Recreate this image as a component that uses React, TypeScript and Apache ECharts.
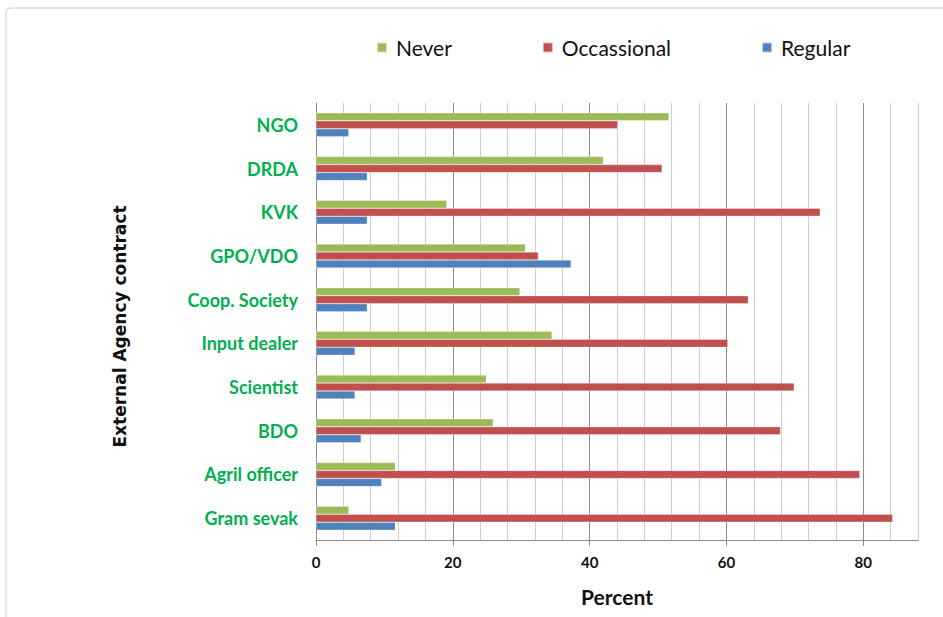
import React, { useEffect, useRef } from "react";
import * as echarts from "echarts";

const categories = [
  "Gram sevak",
  "Agril officer",
  "BDO",
  "Scientist",
  "Input dealer",
  "Coop. Society",
  "GPO/VDO",
  "KVK",
  "DRDA",
  "NGO",
];
const never = [4.8, 11.6, 25.9, 24.9, 34.5, 29.8, 30.6, 19.1, 42.0, 51.6];
const occassional = [84.3, 79.5, 67.9, 69.9, 60.2, 63.2, 32.5, 73.7, 50.6, 44.1];
const regular = [11.6, 9.6, 6.6, 5.7, 5.7, 7.5, 37.3, 7.5, 7.5, 4.8];
const xLabelValues = [0, 20, 40, 60, 80];

export default function App() {
  const ref = useRef<HTMLDivElement>(null);
  useEffect(() => {
    if (!ref.current) return;
    const chart = echarts.init(ref.current, null, { renderer: "svg" });
    const gridColors: string[] = [];
    for (let i = 0; i < 5; i++) gridColors.push(i === 0 ? "#8c8c8c" : "#cfcfcf");
    const barCommon = {
      type: "bar" as const,
      barWidth: 8,
      barGap: "0%",
      itemStyle: { borderColor: "rgba(255,255,255,0.6)", borderWidth: 0.5 },
    };
    chart.setOption({
      animation: false,
      backgroundColor: "#ffffff",
      textStyle: { fontFamily: "Lato" },
      graphic: [
        {
          type: "rect",
          shape: { x: 6, y: 8, width: 960, height: 640, r: 4 },
          style: { fill: "none", stroke: "#cfcfcf", lineWidth: 1 },
          silent: true,
        },
      ],
      legend: {
        left: 371,
        top: 32,
        itemGap: 90,
        itemWidth: 10,
        itemHeight: 10,
        icon: "rect",
        textStyle: { fontFamily: "Lato", fontSize: 21, color: "#111", padding: [0, 0, 0, 4] },
        data: ["Never", "Occassional", "Regular"],
      },
      grid: { left: 316, right: 25, top: 103, bottom: 77 },
      xAxis: [
        {
          type: "value",
          min: 0,
          max: 88,
          interval: 4,
          name: "Percent",
          nameLocation: "middle",
          nameGap: 46,
          nameTextStyle: { fontFamily: "Lato", fontSize: 21, fontWeight: "bold", color: "#111" },
          axisLine: { show: true, lineStyle: { color: "#8c8c8c" } },
          axisTick: { show: false },
          axisLabel: {
            formatter: (v: number) => (xLabelValues.indexOf(v) >= 0 ? String(v) : ""),
            fontFamily: "Lato",
            fontSize: 15,
            fontWeight: "bold",
            color: "#111",
            margin: 14,
          },
          splitLine: { show: true, lineStyle: { color: gridColors, width: 1 } },
        },
        {
          type: "value",
          position: "bottom",
          min: 0,
          max: 88,
          interval: 4,
          axisLine: { show: false },
          axisTick: { show: true, customValues: xLabelValues, length: 6, lineStyle: { color: "#8c8c8c" } },
          axisLabel: { show: false },
          splitLine: { show: false },
        },
      ],
      yAxis: {
        type: "category",
        data: categories,
        name: "External Agency contract",
        nameLocation: "middle",
        nameGap: 188,
        nameTextStyle: {
          fontFamily: "DejaVu Sans",
          fontSize: 17,
          fontWeight: "bold",
          color: "#111",
          padding: [0, 10, 0, 0],
        },
        axisLine: { show: true, lineStyle: { color: "#8c8c8c" } },
        axisTick: { show: false },
        axisLabel: {
          fontFamily: "Lato",
          fontSize: 18,
          fontWeight: "bold",
          color: "#00B050",
          margin: 18,
        },
        splitLine: { show: false },
      },
      series: [
        { ...barCommon, name: "Never", data: never, itemStyle: { ...barCommon.itemStyle, color: "#9BBB59" } },
        { ...barCommon, name: "Occassional", data: occassional, itemStyle: { ...barCommon.itemStyle, color: "#C0504D" } },
        { ...barCommon, name: "Regular", data: regular, itemStyle: { ...barCommon.itemStyle, color: "#4F81BD" } },
      ],
    });
    return () => chart.dispose();
  }, []);
  return (
    <div
      ref={ref}
      style={{ position: "fixed", left: 0, top: 0, width: 943, height: 617 }}
    />
  );
}
